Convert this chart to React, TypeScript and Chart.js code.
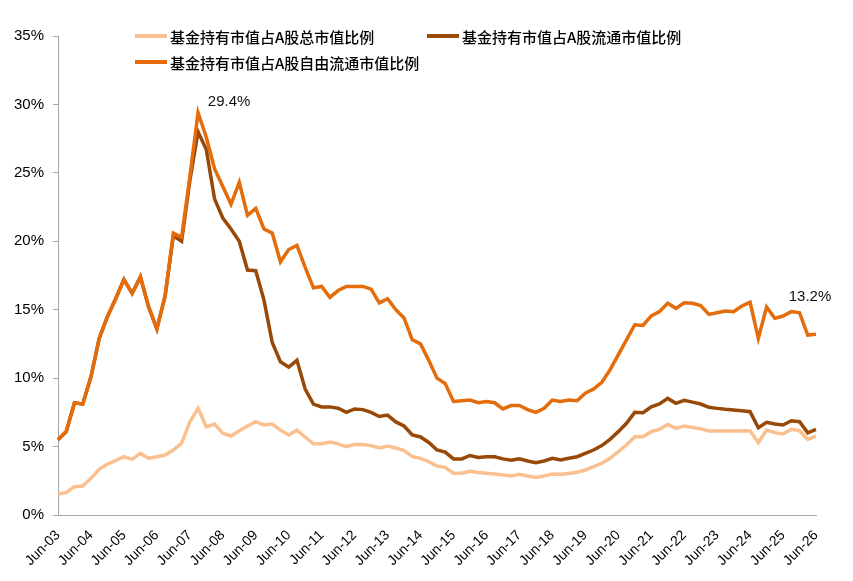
import React, { useEffect, useRef } from 'react';
import Chart from 'chart.js/auto';

// quarterly, Jun-03 .. Jun-26
const tickYears = ['03', '04', '05', '06', '07', '08', '09', '10', '11', '12', '13', '14',
  '15', '16', '17', '18', '19', '20', '21', '22', '23', '24', '25', '26'];

const quarters: string[] = [];
for (let k = 0; k < tickYears.length - 1; k++) {
  quarters.push('Jun-' + tickYears[k], 'Sep-' + tickYears[k], 'Dec-' + tickYears[k], 'Mar-' + tickYears[k + 1]);
}
quarters.push('Jun-' + tickYears[tickYears.length - 1]);

// 基金持有市值占A股总市值比例 (%)
const totalShare = [
  1.53, 1.63, 2.07, 2.12, 2.68, 3.34, 3.73, 3.97, 4.26, 4.07,
  4.5, 4.14, 4.26, 4.38, 4.75, 5.24, 6.8, 7.8, 6.45, 6.65,
  5.97, 5.77, 6.16, 6.5, 6.82, 6.58, 6.65, 6.2, 5.85, 6.2,
  5.7, 5.2, 5.2, 5.33, 5.2, 5.0, 5.15, 5.15, 5.07, 4.9,
  5.04, 4.9, 4.7, 4.26, 4.14, 3.9, 3.58, 3.48, 3.05, 3.05,
  3.2, 3.1, 3.05, 3.0, 2.92, 2.85, 2.97, 2.85, 2.75, 2.85,
  3.0, 2.97, 3.04, 3.12, 3.29, 3.53, 3.78, 4.14, 4.63, 5.11,
  5.72, 5.72, 6.09, 6.26, 6.62, 6.33, 6.5, 6.4, 6.3, 6.14,
  6.14, 6.14, 6.14, 6.16, 6.14, 5.29, 6.21, 6.02, 5.92, 6.26,
  6.16, 5.53, 5.77,
];

// 基金持有市值占A股流通市值比例 (%)
const floatShare = [
  5.5, 6.1, 8.2, 8.1, 10.1, 12.9, 14.5, 15.8, 17.2, 16.2,
  17.4, 15.2, 13.6, 16.0, 20.4, 20.0, 24.4, 28.0, 26.7, 23.1,
  21.7, 20.9, 20.0, 17.9, 17.85, 15.7, 12.6, 11.2, 10.8, 11.3,
  9.2, 8.1, 7.9, 7.9, 7.8, 7.5, 7.75, 7.7, 7.5, 7.2,
  7.3, 6.8, 6.5, 5.85, 5.7, 5.3, 4.75, 4.6, 4.1, 4.1,
  4.35, 4.2, 4.25, 4.25, 4.1, 4.0, 4.1, 3.95, 3.82, 3.95,
  4.14, 4.02, 4.14, 4.26, 4.5, 4.75, 5.07, 5.53, 6.09, 6.7,
  7.5, 7.48, 7.9, 8.11, 8.52, 8.16, 8.38, 8.25, 8.11, 7.87,
  7.79, 7.72, 7.67, 7.62, 7.55, 6.38, 6.77, 6.65, 6.58, 6.89,
  6.82, 6.01, 6.26,
];

// 基金持有市值占A股自由流通市值比例 (%)
const freeFloatShare = [
  5.5, 6.1, 8.2, 8.1, 10.1, 12.9, 14.5, 15.8, 17.2, 16.2,
  17.4, 15.2, 13.6, 16.0, 20.6, 20.3, 24.7, 29.4, 27.6, 25.3,
  24.0, 22.7, 24.3, 21.9, 22.4, 20.9, 20.6, 18.5, 19.4, 19.7,
  18.1, 16.6, 16.7, 15.9, 16.4, 16.7, 16.7, 16.7, 16.5, 15.5,
  15.8, 15.0, 14.4, 12.8, 12.5, 11.3, 10.0, 9.6, 8.3, 8.35,
  8.4, 8.2, 8.3, 8.2, 7.75, 8.0, 8.0, 7.7, 7.5, 7.8,
  8.4, 8.3, 8.4, 8.35, 8.9, 9.2, 9.7, 10.6, 11.7, 12.8,
  13.9, 13.85, 14.55, 14.86, 15.47, 15.1, 15.5, 15.47, 15.3, 14.66,
  14.78, 14.9, 14.86, 15.27, 15.54, 12.9, 15.2, 14.37, 14.54, 14.86,
  14.78, 13.15, 13.2,
];

const seriesNames = ['基金持有市值占A股总市值比例', '基金持有市值占A股流通市值比例', '基金持有市值占A股自由流通市值比例'];
const seriesColors = ['#FAC090', '#984807', '#E46C0A'];

const yTicks = [0, 5, 10, 15, 20, 25, 30, 35];
const labelled = [17, 92]; // points on the free-float line that carry a value label

const latinFont = '"Liberation Sans", Arial, sans-serif';
const cjkFont = '"Noto Sans CJK SC", "Liberation Sans", sans-serif';

const pointLabels = {
  id: 'pointLabels',
  afterDatasetsDraw(chart: any) {
    const ctx = chart.ctx;
    const meta = chart.getDatasetMeta(2);
    ctx.save();
    ctx.font = '15px ' + latinFont;
    ctx.fillStyle = '#111';
    ctx.textAlign = 'center';
    ctx.textBaseline = 'middle';
    labelled.forEach((i, n) => {
      const pt = meta.data[i];
      const dx = n === 0 ? 31 : -6;
      const dy = n === 0 ? -11 : -37;
      ctx.fillText(freeFloatShare[i].toFixed(1) + '%', pt.x + dx, pt.y + dy);
    });
    ctx.restore();
  },
};

const FundShareChart = () => {
  const chartRef = useRef<HTMLCanvasElement>(null);
  const chartInstanceRef = useRef<Chart>();

  useEffect(() => {
    document.body.style.margin = '0';
    if (!chartRef.current) return;
    const ctx = chartRef.current.getContext('2d');
    if (!ctx) return;
    if (chartInstanceRef.current) chartInstanceRef.current.destroy();

    const values = [totalShare, floatShare, freeFloatShare];

    chartInstanceRef.current = new Chart(ctx, {
      type: 'line',
      data: {
        labels: quarters,
        datasets: values.map((d, k) => ({
          label: seriesNames[k],
          data: d,
          borderColor: seriesColors[k],
          backgroundColor: seriesColors[k],
          borderWidth: 3.5,
          pointRadius: 0,
          tension: 0,
          order: 2 - k, // free-float line on top
        })),
      },
      options: {
        responsive: false,
        animation: false,
        layout: { padding: { left: 0, right: 37, top: 36, bottom: 0 } },
        plugins: {
          legend: { display: false },
          tooltip: { enabled: false },
        },
        scales: {
          x: {
            type: 'category',
            offset: false,
            grid: { display: false },
            border: { display: true, color: '#A6A6A6', width: 1 },
            ticks: {
              autoSkip: false,
              minRotation: 45,
              maxRotation: 45,
              padding: 4,
              color: '#000',
              font: { family: latinFont, size: 14 },
              callback: (_v: any, i: number) => (i % 4 === 0 ? quarters[i] : null),
            },
            afterFit: (scale: any) => {
              scale.height = 66;
            },
          },
          y: {
            min: 0,
            max: 35,
            afterBuildTicks: (scale: any) => {
              scale.ticks = yTicks.map((v) => ({ value: v }));
            },
            grid: { display: true, drawOnChartArea: false, drawTicks: true, tickLength: 5, color: '#A6A6A6' },
            border: { display: true, color: '#A6A6A6', width: 1 },
            ticks: {
              padding: 9,
              color: '#000',
              font: { family: latinFont, size: 15 },
              callback: (v: any) => v + '%',
            },
            afterFit: (scale: any) => {
              scale.width = 58;
            },
          },
        },
      },
      plugins: [pointLabels],
    });

    return () => {
      if (chartInstanceRef.current) {
        chartInstanceRef.current.destroy();
        chartInstanceRef.current = undefined;
      }
    };
  }, []);

  const legendItems = [
    { k: 0, left: 135, top: 36 },
    { k: 1, left: 427, top: 36 },
    { k: 2, left: 135, top: 62 },
  ];

  return (
    <div style={{ position: 'relative', width: 853, height: 581, background: '#fff' }}>
      <canvas ref={chartRef} width={853} height={581} />
      {legendItems.map(({ k, left, top }) => (
        <div
          key={k}
          style={{
            position: 'absolute',
            left,
            top: top - 11,
            height: 22,
            display: 'flex',
            alignItems: 'center',
            fontFamily: cjkFont,
            fontSize: 15,
            fontWeight: 500,
            color: '#000',
            whiteSpace: 'nowrap',
          }}
        >
          <span style={{ display: 'inline-block', width: 32, height: 4, background: seriesColors[k], marginRight: 3 }} />
          <span>{seriesNames[k]}</span>
        </div>
      ))}
    </div>
  );
};

export default function App() {
  return <FundShareChart />;
}
